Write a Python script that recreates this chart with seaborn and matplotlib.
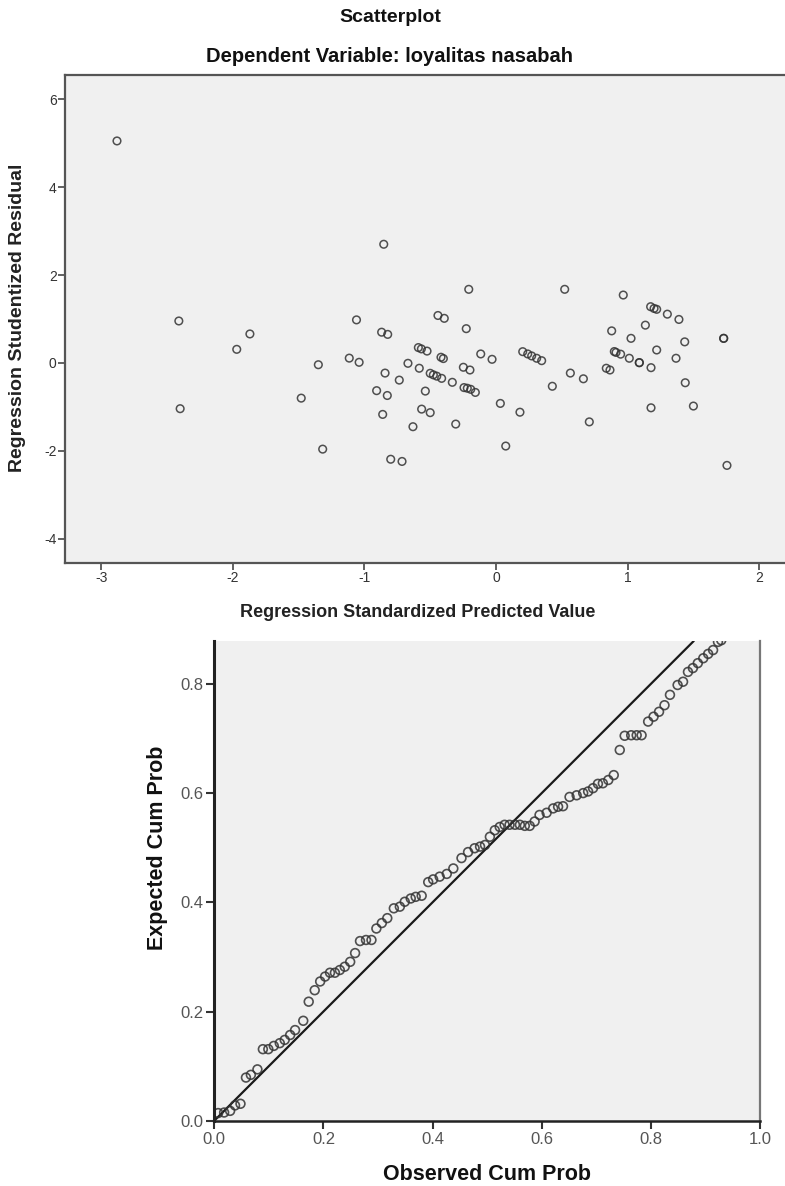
import matplotlib
matplotlib.use("Agg")
import matplotlib.pyplot as plt
import numpy as np
import pandas as pd
import seaborn as sns

# scatterplot of residuals vs predicted
pred_value = [
    -2.88, -0.853, -2.41, -2.40, -1.97, -1.87, -1.35, -1.48, -1.317, -1.115,
    -1.04, -1.06, -0.869, -0.823, -0.843, -0.907, -0.826, -0.861, -0.80, -0.714,
    -0.735, -0.207, 0.522, 0.967, 1.175, 1.201, 1.221, 1.302, 1.39, 1.135,
    0.879, 1.026, 1.434, 1.73, 1.73, 1.221, 0.899, 0.912, 0.947, 1.013,
    1.089, 1.089, 1.368, 1.178, 0.838, 0.866, 1.438, 1.50, 1.178, 1.755,
    0.565, 0.664, 0.428, 0.709, 0.203, 0.241, 0.271, 0.309, 0.347, 0.033,
    0.182, 0.074, -0.116, -0.03, -0.226, -0.441, -0.393, -0.59, -0.567, -0.524,
    -0.669, -0.583, -0.418, -0.40, -0.50, -0.476, -0.45, -0.413, -0.332, -0.248,
    -0.198, -0.243, -0.218, -0.192, -0.157, -0.537, -0.565, -0.50, -0.631, -0.306,
]
stud_resid = [
    5.05, 2.70, 0.955, -1.04, 0.31, 0.66, -0.04, -0.80, -1.96, 0.11,
    0.015, 0.98, 0.70, 0.65, -0.23, -0.63, -0.74, -1.17, -2.19, -2.24,
    -0.39, 1.675, 1.675, 1.545, 1.28, 1.24, 1.22, 1.11, 0.99, 0.86,
    0.73, 0.56, 0.48, 0.56, 0.56, 0.295, 0.26, 0.24, 0.20, 0.107,
    0.007, 0.007, 0.107, -0.107, -0.12, -0.16, -0.45, -0.98, -1.02, -2.33,
    -0.23, -0.36, -0.53, -1.34, 0.257, 0.205, 0.16, 0.107, 0.052, -0.92,
    -1.12, -1.89, 0.205, 0.083, 0.78, 1.08, 1.015, 0.35, 0.32, 0.27,
    -0.008, -0.12, 0.13, 0.10, -0.235, -0.27, -0.30, -0.35, -0.44, -0.098,
    -0.16, -0.56, -0.575, -0.60, -0.67, -0.64, -1.05, -1.13, -1.45, -1.39,
]

# normal P-P plot
obs_cum = [
    0.007, 0.018, 0.029, 0.038, 0.048, 0.058, 0.067, 0.079, 0.089, 0.099,
    0.109, 0.120, 0.129, 0.139, 0.148, 0.163, 0.173, 0.184, 0.194, 0.203,
    0.212, 0.221, 0.230, 0.239, 0.249, 0.258, 0.267, 0.278, 0.288, 0.297,
    0.307, 0.317, 0.329, 0.340, 0.349, 0.360, 0.369, 0.380, 0.392, 0.401,
    0.413, 0.426, 0.438, 0.453, 0.465, 0.477, 0.487, 0.496, 0.505, 0.514,
    0.523, 0.532, 0.541, 0.551, 0.560, 0.569, 0.578, 0.587, 0.596, 0.609,
    0.621, 0.630, 0.639, 0.651, 0.664, 0.676, 0.685, 0.694, 0.703, 0.712,
    0.722, 0.732, 0.743, 0.752, 0.764, 0.774, 0.783, 0.795, 0.805, 0.815,
    0.825, 0.835, 0.849, 0.859, 0.868, 0.877, 0.886, 0.896, 0.905, 0.914,
    0.923, 0.929,
]
exp_cum = [
    0.014, 0.015, 0.018, 0.028, 0.031, 0.079, 0.084, 0.094, 0.131, 0.131,
    0.137, 0.142, 0.148, 0.157, 0.166, 0.183, 0.218, 0.239, 0.255, 0.264,
    0.271, 0.271, 0.276, 0.282, 0.291, 0.307, 0.329, 0.331, 0.331, 0.352,
    0.362, 0.371, 0.389, 0.392, 0.401, 0.407, 0.410, 0.412, 0.437, 0.442,
    0.447, 0.452, 0.462, 0.481, 0.492, 0.499, 0.502, 0.505, 0.520, 0.532,
    0.538, 0.542, 0.542, 0.542, 0.542, 0.540, 0.540, 0.548, 0.560, 0.564,
    0.572, 0.575, 0.576, 0.593, 0.596, 0.600, 0.603, 0.609, 0.617, 0.618,
    0.624, 0.633, 0.679, 0.705, 0.706, 0.706, 0.706, 0.731, 0.740, 0.749,
    0.761, 0.780, 0.798, 0.804, 0.822, 0.829, 0.838, 0.847, 0.855, 0.862,
    0.877, 0.880,
]

sns.set_style("white")
plt.rcParams["font.family"] = ["Liberation Sans", "DejaVu Sans"]
plt.rcParams["axes.unicode_minus"] = False

W, H = 785, 1186
fig = plt.figure(figsize=(W / 100, H / 100), dpi=100)

bg = "#f0f0f0"
ring = "#333333"


def px_box(l, t, r, b):
    return [l / W, 1 - b / H, (r - l) / W, (b - t) / H]


# ---- top panel
ax1 = fig.add_axes(px_box(65, 75, 785, 563))
ax1.set_facecolor(bg)
sc = pd.DataFrame({"pred": pred_value, "resid": stud_resid})
sns.scatterplot(data=sc, x="pred", y="resid", ax=ax1, s=30, facecolor="none",
                edgecolor=ring, linewidth=1.1, alpha=0.85)
ax1.set_xlim(-3.275, 2.196)
ax1.set_ylim(-4.55, 6.55)
ax1.set_xticks([-3, -2, -1, 0, 1, 2])
ax1.set_yticks([-4, -2, 0, 2, 4, 6])
ax1.set_xlabel("")
ax1.set_ylabel("")
for side in ["left", "top", "bottom"]:
    ax1.spines[side].set_color("#555555")
    ax1.spines[side].set_linewidth(1.6)
ax1.spines["right"].set_visible(False)
ax1.tick_params(axis="both", bottom=True, left=True, direction="out", length=5,
                width=1.3, color="#555555", labelcolor="#333333", labelsize=10, pad=1)

fig.text(390 / W, 1 - 18 / H, "Scatterplot", ha="center", va="center",
         fontsize=14, fontweight="bold", color="#111111")
fig.text(390 / W, 1 - 57 / H, "Dependent Variable: loyalitas nasabah",
         ha="center", va="center", fontsize=14.5, fontweight="bold", color="#111111")
fig.text(18 / W, 1 - 318 / H, "Regression Studentized Residual", rotation=90,
         ha="center", va="center", fontsize=14, fontweight="bold", color="#222222")
fig.text(418 / W, 1 - 612 / H, "Regression Standardized Predicted Value",
         ha="center", va="center", fontsize=13, fontweight="bold", color="#222222")

# ---- bottom panel
ax2 = fig.add_axes(px_box(214.3, 641, 760, 1120.7))
ax2.set_facecolor(bg)
pp = pd.DataFrame({"obs": obs_cum, "exp": exp_cum})
ax2.axline((0, 0), slope=1, color="#1a1a1a", linewidth=1.6, zorder=1)
sns.scatterplot(data=pp, x="obs", y="exp", ax=ax2, s=40, facecolor="none",
                edgecolor=ring, linewidth=1.2, alpha=0.85, zorder=2)
ax2.set_xlim(0, 1.0)
ax2.set_ylim(0, 0.8786)
ax2.set_xticks([0.0, 0.2, 0.4, 0.6, 0.8, 1.0])
ax2.set_yticks([0.0, 0.2, 0.4, 0.6, 0.8])
ax2.xaxis.set_major_formatter(matplotlib.ticker.FormatStrFormatter("%.1f"))
ax2.yaxis.set_major_formatter(matplotlib.ticker.FormatStrFormatter("%.1f"))
ax2.set_xlabel("")
ax2.set_ylabel("")
ax2.spines["top"].set_visible(False)
ax2.spines["left"].set_color("#222222")
ax2.spines["left"].set_linewidth(2.2)
ax2.spines["bottom"].set_color("#222222")
ax2.spines["bottom"].set_linewidth(1.8)
ax2.spines["right"].set_color("#777777")
ax2.spines["right"].set_linewidth(1.6)
ax2.tick_params(axis="both", bottom=True, left=True, direction="out", length=6,
                width=1.5, color="#333333", labelcolor="#555555", labelsize=12, pad=2)

fig.text(487 / W, 1 - 1174 / H, "Observed Cum Prob", ha="center", va="center",
         fontsize=15.5, fontweight="bold", color="#111111")
fig.text(158 / W, 1 - 848 / H, "Expected Cum Prob", rotation=90, ha="center",
         va="center", fontsize=15.5, fontweight="bold", color="#111111")

fig.savefig("out.png", dpi=100)
